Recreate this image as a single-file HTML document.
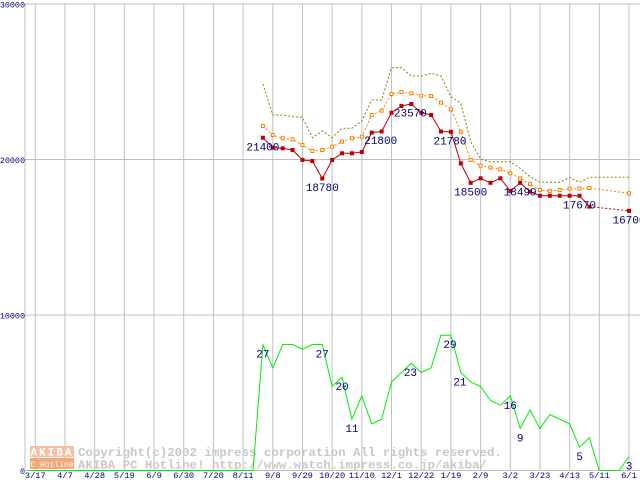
<!DOCTYPE html>
<html><head><meta charset="utf-8"><style>
html,body{margin:0;padding:0;background:#fff;}
svg{display:block;}
text{font-family:"Liberation Mono","DejaVu Sans Mono",monospace;}
</style></head><body>
<svg id="chart" width="640" height="480" viewBox="0 0 640 480" xmlns="http://www.w3.org/2000/svg">
<g id="grid"></g>
<g id="watermark">
  <rect x="30" y="446" width="44" height="11" fill="#f8c0a0"/>
  <text x="52" y="455.5" font-size="11" font-weight="bold" fill="#fff" text-anchor="middle" letter-spacing="2">AKIBA</text>
  <rect x="30" y="458" width="44" height="11" fill="#f4a878"/>
  <text x="52" y="467" font-size="8" fill="#fff" text-anchor="middle">PC Hotline!</text>
  <text x="78" y="456" font-size="12.4" font-weight="bold" fill="#c8c8c8">Copyright(c)2002 impress corporation All rights reserved.</text>
  <text x="78" y="468.5" font-size="12.4" font-weight="bold" fill="#c8c8c8">AKIBA PC Hotline!  http://www.watch.impress.co.jp/akiba/</text>
</g>
<g id="series"></g>
<g id="labels"></g>
</svg>
<script>
const xTickLabels = ["3/17","4/7","4/28","5/19","6/9","6/30","7/20","8/11","9/8","9/29","10/20","11/10","12/1","12/22","1/19","2/9","3/2","3/23","4/13","5/11","6/1"];
const yTickValues = [0,10000,20000,30000];
const priceWeeks = [23,24,25,26,27,28,29,30,31,32,33,34,35,36,37,38,39,40,41,42,43,44,45,46,47,48,49,50,51,52,53,54,55,56,60];
const minPrice = [21400,20760,20720,20610,19970,19900,18780,19970,20400,20400,20480,21730,21800,23010,23440,23570,23010,22860,21800,21780,19750,18500,18790,18500,18790,17970,18499,17930,17670,17670,17670,17670,17670,16970,16700];
const avgPrice = [22155,21576,21364,21298,20933,20547,20611,20826,21147,21364,21469,22863,23140,24213,24341,24255,24106,24084,23656,23227,21790,19970,19604,19476,19368,19111,18790,18425,18039,17970,18039,18125,18125,18167,17826];
const maxPrice = [24856,22863,22863,22753,22714,21402,21833,21402,22006,22006,22476,23827,23827,25904,25904,25370,25370,25543,25370,24039,23614,21147,20013,19859,19859,19859,19435,18894,18534,18534,18534,18856,18534,18856,18856];
const shopWeeks = [0,1,2,3,4,5,6,7,8,9,10,11,12,13,14,15,16,17,18,19,20,21,22,23,24,25,26,27,28,29,30,31,32,33,34,35,36,37,38,39,40,41,42,43,44,45,46,47,48,49,50,51,52,53,54,55,56,57,58,59,60];
const shopCount = [0,0,0,0,0,0,0,0,0,0,0,0,0,0,0,0,0,0,0,0,0,0,0,27,22,27,27,26,27,27,18,20,11,16,10,11,19,21,23,21,22,29,29,21,19,18,15,14,16,9,13,9,12,11,10,5,7,0,0,0,3];
const priceLabelWeeks = [23,29,34,37,41,44,49,55,60];
const priceLabelValues = [21400,18780,21800,23570,21780,18500,18499,17670,16700];
const priceLabelShift = [0,0,9,9,9,0,0,0,0];
const shopLabelWeeks = [23,29,31,32,37,41,42,48,49,55,60];
const shopLabelValues = [27,27,20,11,23,29,21,16,9,5,3];
const shopLabelShift = [0,0,0,0,9,9,9,0,0,0,0];

const NS = "http://www.w3.org/2000/svg";
function xw(i){ return 35.3 + 9.895*i; }
function yv(v){ return 470.5 - v*0.01555; }
function ys(c){ return yv(c*300); }
function mk(tag, attrs, parent){ const e=document.createElementNS(NS,tag); for(const k in attrs) e.setAttribute(k,attrs[k]); parent.appendChild(e); return e; }

const grid=document.getElementById('grid');
const series=document.getElementById('series');
const labels=document.getElementById('labels');

xTickLabels.forEach((t,k)=>{
  const x=xw(k*3);
  const l=mk('line',{x1:x,y1:4,x2:x,y2:470,stroke:'#c0c0c0','stroke-width':1},grid);
  
  
  const tx=mk('text',{x:x,y:478,'font-size':8.7,fill:'#000080','text-anchor':'middle'},labels);
  tx.textContent=t;
  
  
});
yTickValues.forEach(v=>{
  const y=yv(v);
  const l=mk('line',{x1:25,y1:y,x2:640,y2:y,stroke:'#c0c0c0','stroke-width':1},grid);
  
  
  const tx=mk('text',{x:25,y:y+3.5,'font-size':8.4,fill:'#000080','text-anchor':'end'},labels);
  tx.textContent=String(v);
  
  
});
const ax=mk('line',{x1:25,y1:4,x2:25,y2:470,stroke:'#c0c0c0','stroke-width':1},grid);



function poly(ws,vals,yf,attrs,name){
  const pts=ws.map((w,i)=>xw(w).toFixed(1)+','+yf(vals[i]).toFixed(1)).join(' ');
  const p=mk('polyline',Object.assign({points:pts,fill:'none'},attrs),series);
  
  
}
poly([-0.8].concat(shopWeeks),[0].concat(shopCount),ys,{stroke:'#00ee00','stroke-width':1},'shop-count-line');
poly(priceWeeks,maxPrice,yv,{stroke:'#808000','stroke-width':1,'stroke-dasharray':'2,2'},'max-price-line');
poly(priceWeeks,avgPrice,yv,{stroke:'#ff8000','stroke-width':1,'stroke-dasharray':'2,2'},'avg-price-line');
avgPrice.forEach((v,i)=>{
  const r=mk('rect',{x:xw(priceWeeks[i])-1.5,y:yv(v)-1.5,width:3,height:3,fill:'#fff',stroke:'#ff8000','stroke-width':1},series);
  
  
});
poly(priceWeeks.slice(0,-1),minPrice.slice(0,-1),yv,{stroke:'#c00000','stroke-width':1},'min-price-line');
poly(priceWeeks.slice(-2),minPrice.slice(-2),yv,{stroke:'#c00000','stroke-width':1,'stroke-dasharray':'2,2'},'min-price-tail');
minPrice.forEach((v,i)=>{
  const r=mk('rect',{x:xw(priceWeeks[i])-2,y:yv(v)-2,width:4,height:4,fill:'#c00000'},series);
  
  
});
priceLabelValues.forEach((v,i)=>{
  const t=mk('text',{x:xw(priceLabelWeeks[i])+priceLabelShift[i],y:yv(v)+12.7,'font-size':11,fill:'#000080','text-anchor':'middle'},labels);
  t.textContent=String(v);
  
  
});
shopLabelValues.forEach((c,i)=>{
  const t=mk('text',{x:xw(shopLabelWeeks[i])+shopLabelShift[i],y:ys(c)+13,'font-size':11,fill:'#000080','text-anchor':'middle'},labels);
  t.textContent=String(c);
  
  
});
</script>
</body></html>
